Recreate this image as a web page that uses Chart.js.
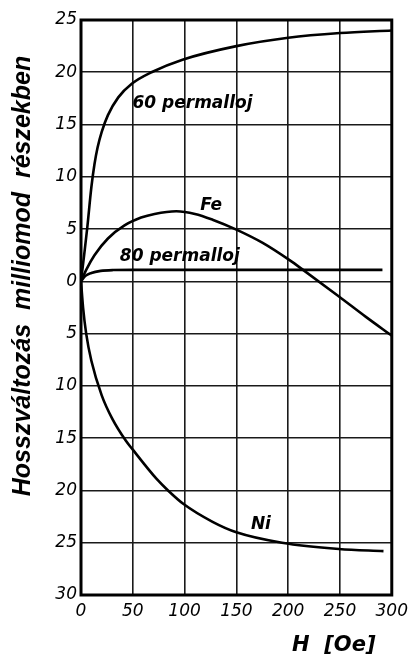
<!DOCTYPE html>
<html>
<head>
<meta charset="utf-8">
<script src="https://cdn.jsdelivr.net/npm/chart.js@4/dist/chart.umd.min.js"></script>
<style>
  html, body { margin: 0; padding: 0; background: #fff; }
  #wrap { width: 414px; height: 655px; position: relative; }
</style>
</head>
<body>
<div id="wrap"><canvas id="c"></canvas></div>
<script>
// ---- data (H in Oe, length change in millionths) ----
const hPerm60 = [0, 3, 6, 10, 13, 16, 20, 26, 36, 49, 68, 98, 150, 200, 250, 300];
const perm60  = [0, 2.5, 5.1, 9.0, 11.2, 12.8, 14.3, 15.9, 17.6, 18.9, 20.0, 21.2, 22.5, 23.3, 23.75, 24.0];

const hFe = [0, 5, 13, 26, 42, 58, 71, 92, 110, 127, 150, 175, 201, 215, 249, 275, 300];
const fe  = [0, 1.1, 2.5, 4.1, 5.35, 6.1, 6.45, 6.7, 6.45, 5.9, 4.95, 3.7, 2.05, 1.05, -1.45, -3.4, -5.2];

const hPerm80 = [0, 4, 10, 19, 31, 50, 100, 200, 291];
const perm80  = [0, 0.5, 0.8, 1.0, 1.08, 1.1, 1.1, 1.1, 1.1];

const hNi = [0, 2, 5, 10, 20, 30, 43, 50, 73, 84, 99, 127, 150, 194, 249, 292];
const ni  = [0, -2.5, -5.0, -7.6, -10.9, -13.1, -15.2, -16.1, -18.9, -20.0, -21.3, -23.0, -24.0, -25.0, -25.6, -25.8];

const xTicks = [0, 50, 100, 150, 200, 250, 300];
const yMin = -30, yMax = 25, yStep = 5;

const curveLabels = [
  { text: '60 permalloj', x: 49.7, y: 16.6 },
  { text: 'Fe',           x: 115,  y: 6.8 },
  { text: '80 permalloj', x: 37.5, y: 1.94 },
  { text: 'Ni',           x: 164,  y: -23.7 }
];
const yTitle = 'Hosszváltozás  milliomod  részekben';
const xTitle = 'H  [Oe]';

function pts(xs, ys) { return xs.map((x, i) => ({ x: x, y: ys[i] })); }

const lineStyle = {
  borderColor: '#000', borderWidth: 2.6, pointRadius: 0,
  cubicInterpolationMode: 'monotone', fill: false
};

const frameAndText = {
  id: 'frameAndText',
  afterDatasetsDraw(chart) {
    const ctx = chart.ctx, a = chart.chartArea;
    const xs = chart.scales.x, ys = chart.scales.y;
    ctx.save();
    ctx.strokeStyle = '#000';
    ctx.lineWidth = 3;
    ctx.strokeRect(a.left, a.top, a.right - a.left, a.bottom - a.top);
    // curve labels
    ctx.fillStyle = '#000';
    ctx.font = 'italic bold 17px "DejaVu Sans"';
    ctx.textAlign = 'left';
    ctx.textBaseline = 'alphabetic';
    curveLabels.forEach(l => {
      ctx.fillText(l.text, xs.getPixelForValue(l.x), ys.getPixelForValue(l.y));
    });
    // x title
    ctx.font = 'italic bold 21px "DejaVu Sans"';
    ctx.fillText(xTitle, 292, 651);
    // y title
    ctx.font = 'italic bold 25px "Liberation Sans"';
    ctx.translate(30, 276);
    ctx.rotate(-Math.PI / 2);
    ctx.textAlign = 'center';
    ctx.fillText(yTitle, 0, 0);
    ctx.restore();
  }
};

new Chart(document.getElementById('c'), {
  type: 'line',
  data: {
    datasets: [
      Object.assign({ label: '60 permalloj', data: pts(hPerm60, perm60) }, lineStyle),
      Object.assign({ label: 'Fe', data: pts(hFe, fe) }, lineStyle),
      Object.assign({ label: '80 permalloj', data: pts(hPerm80, perm80) }, lineStyle),
      Object.assign({ label: 'Ni', data: pts(hNi, ni) }, lineStyle)
    ]
  },
  options: {
    responsive: true,
    maintainAspectRatio: false,
    animation: false,
    devicePixelRatio: 1,
    layout: { padding: { top: 20, right: 21, left: 0, bottom: 0 } },
    plugins: { legend: { display: false }, tooltip: { enabled: false } },
    scales: {
      x: {
        type: 'linear', min: xTicks[0], max: xTicks[xTicks.length - 1],
        afterBuildTicks: s => { s.ticks = xTicks.map(v => ({ value: v })); },
        afterFit: s => { s.height = 60; },
        grid: { color: '#1a1a1a', lineWidth: 1.6, drawTicks: false },
        border: { display: false },
        ticks: {
          padding: 6, color: '#000', maxRotation: 0,
          font: { family: '"DejaVu Sans"', style: 'italic', size: 17 }
        }
      },
      y: {
        type: 'linear', min: yMin, max: yMax,
        afterFit: s => { s.width = 81; },
        grid: { color: '#1a1a1a', lineWidth: 1.6, drawTicks: false },
        border: { display: false },
        ticks: {
          stepSize: yStep, padding: 4, color: '#000',
          font: { family: '"DejaVu Sans"', style: 'italic', size: 17 },
          callback: v => String(Math.abs(v))
        }
      }
    }
  },
  plugins: [frameAndText]
});
</script>
</body>
</html>
